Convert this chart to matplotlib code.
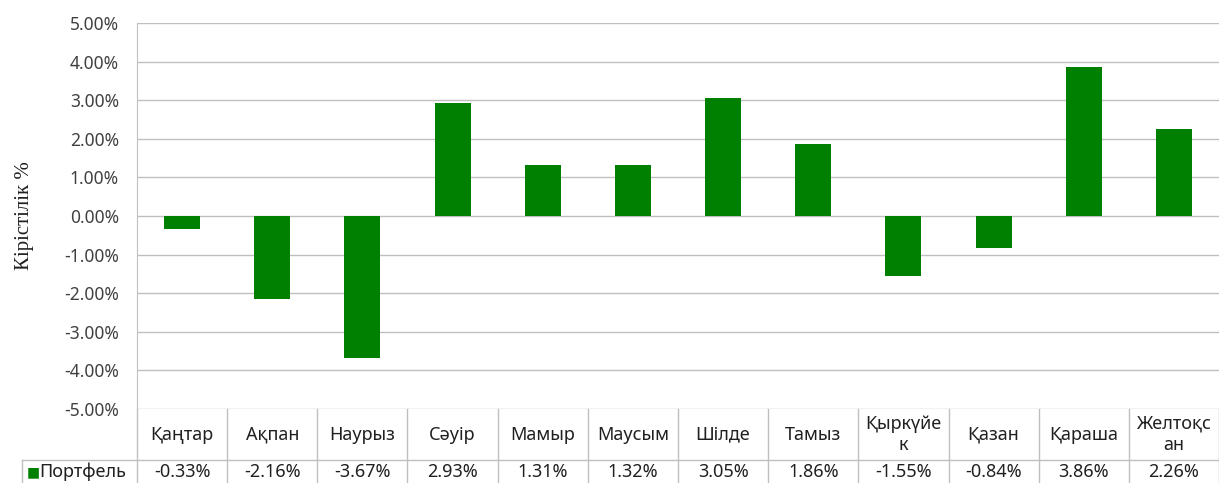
import matplotlib.pyplot as plt
import matplotlib.transforms as mtransforms
import numpy as np

# данные
months = ['Қаңтар', 'Ақпан', 'Наурыз', 'Сәуір', 'Мамыр', 'Маусым', 'Шілде',
          'Тамыз', 'Қыркүйе\nк', 'Қазан', 'Қараша', 'Желтоқс\nан']
returns = [-0.33, -2.16, -3.67, 2.93, 1.31, 1.32, 3.05, 1.86, -1.55, -0.84, 3.86, 2.26]
series_name = 'Портфель'
y_ticks = [-5, -4, -3, -2, -1, 0, 1, 2, 3, 4, 5]

green = '#008000'
grid_c = '#bfbfbf'
plt.rcParams['font.family'] = ['Noto Sans', 'DejaVu Sans']

W, H = 1219, 483
fig = plt.figure(figsize=(W / 100, H / 100), dpi=100)
ax = fig.add_axes([137 / W, 1 - 409 / H, (W - 137) / W, 386 / H])

x = np.arange(len(months))
ax.bar(x, returns, width=0.4, color=green, zorder=3)

ax.set_xlim(-0.5, len(months) - 0.5)
ax.set_ylim(-5, 5)
ax.set_yticks(y_ticks)
ax.set_yticklabels(['{:.2f}%'.format(v) for v in y_ticks], fontsize=12.5, color='#404040')
ax.tick_params(axis='y', length=0, pad=13)
ax.set_xticks([])
ax.yaxis.grid(True, color=grid_c, linewidth=1, zorder=0)
for s in ['top', 'right', 'bottom']:
    ax.spines[s].set_visible(False)
ax.spines['left'].set_color(grid_c)

ax.set_ylabel('Кірістілік %', family='Liberation Serif', fontsize=15, labelpad=22,
              color='#202020')

# таблица данных под графиком
trans = mtransforms.blended_transform_factory(ax.transData, ax.transAxes)
hdr_bot = -51 / 386
row_bot = -80 / 386
row_mid = -63 / 386
lab_left = (22 - 137) / (W - 137)

for i in range(len(months) + 1):
    ax.plot([i - 0.5, i - 0.5], [0, row_bot], transform=trans, color=grid_c,
            lw=1, clip_on=False)
ax.plot([lab_left, 1], [hdr_bot, hdr_bot], transform=ax.transAxes, color=grid_c,
        lw=1, clip_on=False)
ax.plot([lab_left, lab_left], [hdr_bot, row_bot], transform=ax.transAxes, color=grid_c,
        lw=1, clip_on=False)

for i, (m, v) in enumerate(zip(months, returns)):
    ax.text(i, hdr_bot / 2, m, transform=trans, ha='center', va='center',
            fontsize=13, color='#202020', linespacing=1.25)
    ax.text(i, row_mid, '{:.2f}%'.format(v), transform=trans, ha='center',
            va='center', fontsize=13, color='#202020')

ax.text(lab_left + 0.004, row_mid, '■', transform=ax.transAxes, ha='left',
        va='center', fontsize=10, color=green, family='DejaVu Sans')
ax.text(lab_left + 0.0155, row_mid, series_name, transform=ax.transAxes, ha='left',
        va='center', fontsize=13, color='#202020')

fig.savefig('out.png', dpi=100)
